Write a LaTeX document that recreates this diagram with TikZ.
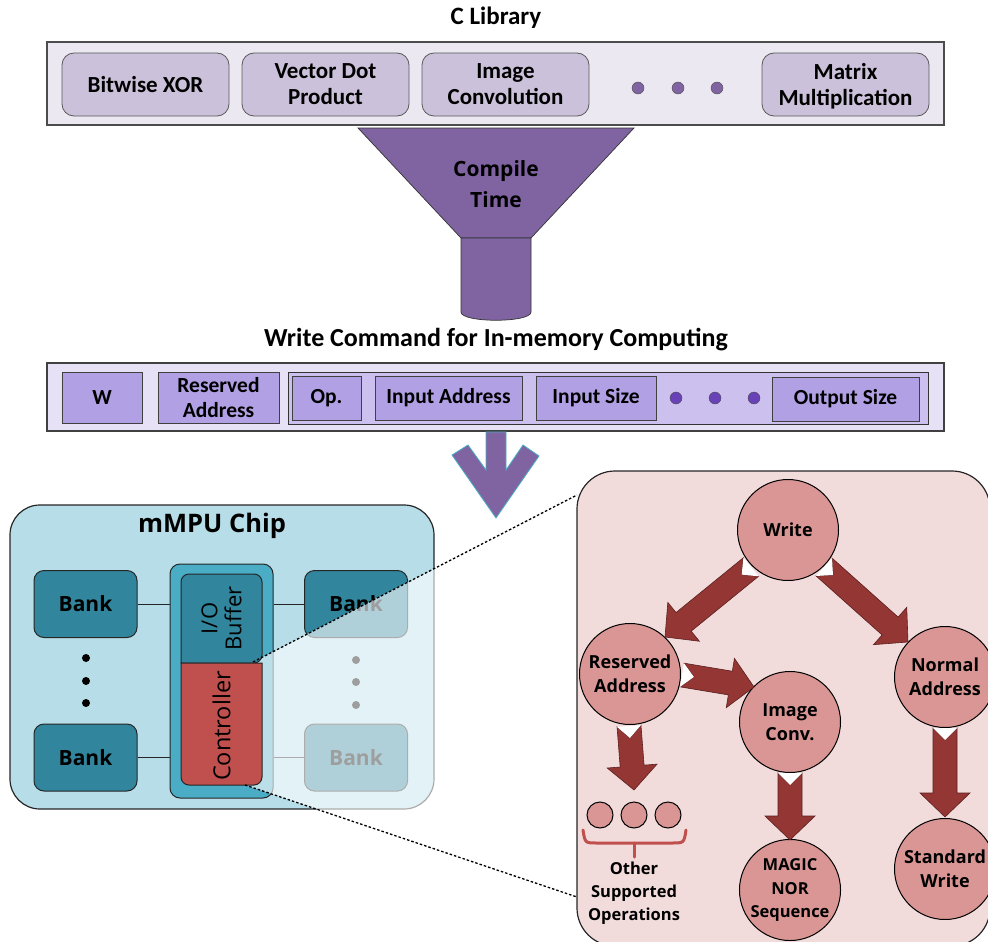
\documentclass[tikz,border=0pt]{standalone}
\usepackage{fontspec}
\setmainfont{Carlito}
\newfontfamily\osans{Open Sans}
\usetikzlibrary{calc}
\definecolor{libbg}{HTML}{ECE8F1}
\definecolor{libin}{HTML}{CCC1DA}
\definecolor{libdot}{HTML}{8064A2}
\definecolor{funnelc}{HTML}{8064A2}
\definecolor{cmdbg}{HTML}{E7E1F6}
\definecolor{cmdgrp}{HTML}{CCC0EE}
\definecolor{cmdfld}{HTML}{B1A0E4}
\definecolor{cmddot}{HTML}{6A42B8}
\definecolor{chipbg}{HTML}{B7DEE8}
\definecolor{bankc}{HTML}{31859C}
\definecolor{ctrlout}{HTML}{4BACC6}
\definecolor{ctrlc}{HTML}{C0504D}
\definecolor{pinkbg}{HTML}{F2DCDB}
\definecolor{circc}{HTML}{D99694}
\definecolor{arrc}{HTML}{943634}
\newcommand{\calb}[1]{\fontsize{#1}{#1}\selectfont\bfseries}
\newcommand{\osb}[1]{\osans\fontsize{#1}{#1}\selectfont\bfseries}
\newcommand{\blkarrow}[3]{%
 \coordinate (#3hb) at ($(#2)!24pt!(#1)$);
 \coordinate (#3nt) at ($(#1)!12pt!(#2)$);
 \filldraw[blkarr] ($(#1)!12pt!90:(#2)$) -- ($(#3hb)!12pt!90:(#2)$) -- ($(#3hb)!25pt!90:(#2)$) -- (#2) -- ($(#3hb)!25pt!-90:(#2)$) -- ($(#3hb)!12pt!-90:(#2)$) -- ($(#1)!12pt!-90:(#2)$) -- (#3nt) -- cycle;
 \fill[white] ($(#1)!12pt!90:(#2)$) -- (#3nt) -- ($(#1)!12pt!-90:(#2)$) -- cycle;
}
\begin{document}
\begin{tikzpicture}[x=1pt,y=-1pt,
  libbox/.style={draw=black!65, fill=libin, rounded corners=12pt, line width=0.8pt, minimum width=167pt, minimum height=63pt, align=center, font=\calb{23}, text depth=0pt, inner sep=0pt},
  fld/.style={draw=black!75, fill=cmdfld, line width=0.8pt, align=center, font=\calb{21.5}, inner sep=0pt},
  ldot/.style={circle, draw=black!70, fill=libdot, minimum size=12pt, inner sep=0pt},
  cdot/.style={circle, draw=black!70, fill=cmddot, minimum size=12pt, inner sep=0pt},
  bankbox/.style={draw=black!85, fill=bankc, rounded corners=10pt, line width=1pt, minimum width=103pt, minimum height=67pt, font=\osb{21}, inner sep=0pt},
  bdot/.style={circle, fill=black, minimum size=8pt, inner sep=0pt},
  circn/.style={circle, draw=black, fill=circc, line width=1pt, minimum size=101pt, inner sep=0pt, align=center, font=\osb{18}},
  smallc/.style={circle, draw=black, fill=circc, line width=1pt, minimum size=26pt, inner sep=0pt},
  blkarr/.style={fill=arrc, draw=arrc!60!black, line width=0.6pt, line join=miter},
  dotline/.style={dash pattern=on 2.5pt off 2pt, line width=1.3pt},
  conn/.style={line width=1pt, draw=black!85}
]
\clip (0,0) rectangle (988,942);
\useasboundingbox (0,0) rectangle (988,942);

% ---------- C Library ----------
\node[font=\calb{25}] (libtitle) at (496,18) {C Library};
\draw[fill=libbg, draw=black!70, line width=1.2pt] (47,42) rectangle (944,125);
\node[libbox] (xor) at (145.5,84.5) {Bitwise XOR};
\node[libbox] (vdp) at (325.5,84.5) {Vector Dot\\[3pt]Product};
\node[libbox] (imc) at (505.5,84.5) {Image\\[3pt]Convolution};
\node[libbox] (mm) at (845.5,84.5) {Matrix\\[3pt]Multiplication};
\node[ldot] (ld1) at (638,88) {};
\node[ldot] (ld2) at (678,88) {};
\node[ldot] (ld3) at (717,88) {};

% ---------- Funnel ----------
\filldraw[fill=funnelc, draw=black!80, line width=0.7pt] (358,128) -- (634,128) -- (531,238) -- (461,238) -- cycle;
\filldraw[fill=funnelc, draw=black!80, line width=0.7pt] (461,238) -- (531,238) -- (531,312) .. controls (531,323) and (461,323) .. (461,312) -- cycle;
\node[font=\osb{21}, align=center] (ct) at (496,184) {Compile\\[10pt]Time};

% ---------- Write command ----------
\node[font=\calb{26}] (cmdtitle) at (496,340) {Write Command for In-memory Computing};
\draw[fill=cmdbg, draw=black!75, line width=1.2pt] (47,363) rectangle (944,431);
\node[fld, minimum width=80pt, minimum height=51pt] (fw) at (102,397.5) {W};
\node[fld, minimum width=121pt, minimum height=51pt] (fra) at (218.5,397.5) {Reserved\\[3pt]Address};
\draw[fill=cmdgrp, draw=black!80, line width=0.9pt] (288,372) rectangle (928,424);
\node[fld, minimum width=69pt, minimum height=44pt] (fop) at (326.5,398) {Op.};
\node[fld, minimum width=147pt, minimum height=44pt] (fia) at (448.5,398) {Input Address};
\node[fld, minimum width=120pt, minimum height=44pt] (fis) at (596,398) {Input Size};
\node[cdot] (cd1) at (676,398) {};
\node[cdot] (cd2) at (715,398) {};
\node[cdot] (cd3) at (754,398) {};
\node[fld, minimum width=147pt, minimum height=44pt] (fos) at (845.5,399) {Output Size};

% ---------- Big arrow ----------
\filldraw[fill=funnelc, draw=ctrlout, line width=0.8pt] (486,432) -- (486,470) -- (468,445) -- (452,455) -- (496,518) -- (539,456) -- (523,445) -- (506,470) -- (506,432) -- cycle;

% ---------- mMPU chip ----------
\draw[fill=chipbg, draw=black!85, line width=1.2pt, rounded corners=30pt] (10,505) rectangle (434,809);
\node[font=\osb{25.5}] (chiptitle) at (212,526) {mMPU Chip};
\node[bankbox] (b1) at (85.5,604) {Bank};
\node[bankbox] (b2) at (85.5,757.5) {Bank};
\node[bankbox] (b3) at (356,604) {Bank};
\node[bankbox] (b4) at (356,757.5) {Bank};
\node[bdot] (ld1d) at (86,658) {};
\node[bdot] (ld2d) at (86,681) {};
\node[bdot] (ld3d) at (86,703) {};
\node[bdot] (rd1d) at (356,660) {};
\node[bdot] (rd2d) at (356,682) {};
\node[bdot] (rd3d) at (356,705) {};
\node[draw=black!85, fill=ctrlout, rounded corners=10pt, line width=1pt, minimum width=103pt, minimum height=234pt, inner sep=0pt] (cout) at (221.5,681) {};
\draw[conn] (b1.east) -- (b1.east -| cout.west);
\draw[conn] (b2.east) -- (b2.east -| cout.west);
\draw[conn] (cout.east |- b3.west) -- (b3.west);
\draw[conn] (cout.east |- b4.west) -- (b4.west);
% overlay
\coordinate (z1) at (253,662);
\coordinate (z2) at (577,495);
\coordinate (z3) at (577,897);
\coordinate (z4) at (245,785);
\fill[white, opacity=0.62] (z1) -- (z2) -- (z3) -- (z4) -- cycle;
% IO buffer and controller
\filldraw[fill=bankc, draw=black!85, line width=1pt, rounded corners=8pt] (181,663) -- (181,574) -- (262,574) -- (262,663) [sharp corners] -- cycle;
\node[rotate=90, font=\osans\fontsize{22}{24}\selectfont, align=center] (iob) at (221.5,618.5) {I/O\\Buffer};
\filldraw[fill=ctrlc, draw=black!85, line width=1pt, rounded corners=8pt] (181,663) [sharp corners] -- (262,663) [rounded corners=8pt] -- (262,785) -- (181,785) [sharp corners] -- cycle;
\node[rotate=90, font=\osans\fontsize{23.5}{24}\selectfont] (ctl) at (221.5,726) {Controller};

% ---------- Pink panel ----------
\draw[fill=pinkbg, draw=black!85, line width=1.2pt, rounded corners=38pt] (577,471) rectangle (990,946);
\draw[dotline] (z1) -- (z2);
\draw[dotline] (z4) -- (z3);

\node[circn] (wr) at (788,530) {Write};
\node[circn] (ra) at (630,674) {Reserved\\[6pt]Address};
\node[circn] (ic) at (790,722) {Image\\[6pt]Conv.};
\node[circn] (na) at (945,677) {Normal\\[6pt]Address};
\node[circn, font=\osb{16.5}] (mn) at (790,890) {MAGIC\\[7pt]NOR\\[7pt]Sequence};
\node[circn] (sw) at (945,869) {Standard\\[6pt]Write};
\node[smallc] (s1) at (600,815) {};
\node[smallc] (s2) at (634,815) {};
\node[smallc] (s3) at (668,815) {};
\draw[ctrlc, line width=3pt, line cap=round] (583,830) .. controls (585,843) .. (597,843) -- (672,843) .. controls (684,843) .. (686,830);
\draw[ctrlc, line width=3pt, line cap=round] (634,843) -- (634,857);
\node[font=\osb{16.5}, align=center] (oso) at (634,893) {Other\\[6.5pt]Supported\\[6.5pt]Operations};

% block arrows
\coordinate (t1) at (751,567); \coordinate (h1) at (665,637);
\coordinate (t2) at (824,567); \coordinate (h2) at (908,642);
\coordinate (t3) at (682,675); \coordinate (h3) at (754,687);
\coordinate (t4) at (629,726); \coordinate (h4) at (634,790);
\coordinate (t5) at (790,773); \coordinate (h5) at (790,840);
\coordinate (t6) at (945,728); \coordinate (h6) at (945,817);
\blkarrow{t1}{h1}{A}
\blkarrow{t2}{h2}{B}
\blkarrow{t3}{h3}{C}
\blkarrow{t4}{h4}{D}
\blkarrow{t5}{h5}{E}
\blkarrow{t6}{h6}{F}
\end{tikzpicture}
\end{document}
